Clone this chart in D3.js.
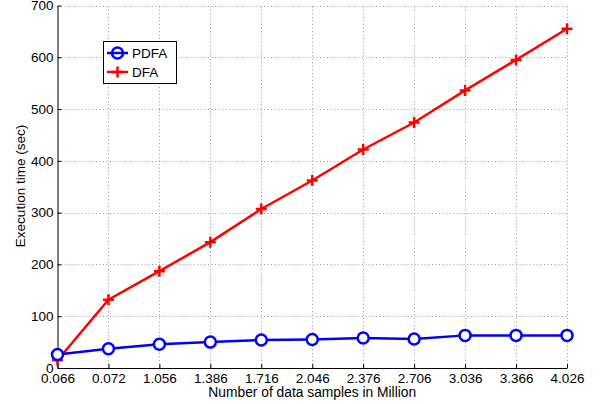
<!DOCTYPE html>
<html>
<head>
<meta charset="utf-8">
<script src="https://cdn.jsdelivr.net/npm/d3@7"></script>
<style>
  html, body { margin: 0; padding: 0; background: #fff; }
  svg { display: block; font-family: "Liberation Sans", Arial, Helvetica, sans-serif; }
</style>
</head>
<body>
<svg id="chart" width="601" height="404"></svg>
<script>
// Sample sizes (millions) shown as evenly spaced categories
const categories = ["0.066", "0.072", "1.056", "1.386", "1.716", "2.046", "2.376", "2.706", "3.036", "3.366", "4.026"];
// Execution time in seconds
const pdfaValues = [26, 37, 46, 50, 54, 55, 58, 56, 63, 63, 63];
const dfaValues  = [15, 132, 187, 243, 307, 362, 422, 474, 536, 595, 655];
const yTicks = [0, 100, 200, 300, 400, 500, 600, 700];

const svg = d3.select("#chart");
const margin = { left: 57.5, right: 34, top: 5.5, bottom: 36 };
const W = 601, H = 404;
const x0 = margin.left, x1 = W - margin.right;
const y0 = H - margin.bottom, y1 = margin.top;
const FS = 13.5;

const x = d3.scalePoint().domain(categories).range([x0, x1]);
const y = d3.scaleLinear().domain([0, 700]).range([y0, y1]);

// Dotted grid
const grid = svg.append("g").attr("stroke", "#9a9a9a").attr("stroke-width", 1)
  .attr("stroke-dasharray", "1,2.5");
grid.selectAll("line.v").data(categories.slice(1)).join("line")
  .attr("x1", d => Math.round(x(d)) + 0.5).attr("x2", d => Math.round(x(d)) + 0.5)
  .attr("y1", y0).attr("y2", y1);
grid.selectAll("line.h").data(yTicks.slice(1)).join("line")
  .attr("class", "h")
  .attr("x1", x0).attr("x2", x1)
  .attr("y1", d => Math.round(y(d)) + 0.5).attr("y2", d => Math.round(y(d)) + 0.5);

// Axes (left and bottom only, ticks pointing inward)
const xAxis = d3.axisBottom(x).tickSizeInner(-4).tickSizeOuter(0).tickPadding(5);
const yAxis = d3.axisLeft(y).tickValues(yTicks).tickSizeInner(-4).tickSizeOuter(0).tickPadding(4);

const gx = svg.append("g").attr("transform", `translate(0,${y0})`).call(xAxis);
const gy = svg.append("g").attr("transform", `translate(${x0},0)`).call(yAxis);
[gx, gy].forEach(g => {
  g.select(".domain").attr("stroke", "#000").attr("stroke-width", 1);
  g.selectAll(".tick line").attr("stroke", "#000");
  g.selectAll(".tick text").attr("fill", "#000").attr("font-size", FS)
    .attr("font-family", "Liberation Sans, Arial, sans-serif");
});

// Axis titles
svg.append("text").attr("x", (x0 + x1) / 2).attr("y", 397)
  .attr("text-anchor", "middle").attr("font-size", 13.8).text("Number of data samples in Million");
svg.append("text").attr("transform", `translate(25,186) rotate(-90)`)
  .attr("text-anchor", "middle").attr("font-size", FS).text("Execution time (sec)");

const line = d3.line().x((d, i) => x(categories[i])).y(d => y(d));

// DFA series (red, plus markers)
svg.append("path").datum(dfaValues).attr("d", line)
  .attr("fill", "none").attr("stroke", "#ff0000").attr("stroke-width", 2.5);
const plus = (g, cx, cy, s) => g.append("path")
  .attr("d", `M${cx - s},${cy}H${cx + s}M${cx},${cy - s}V${cy + s}`)
  .attr("stroke", "#ff0000").attr("stroke-width", 2.5).attr("fill", "none");
const dfaG = svg.append("g");
dfaValues.forEach((v, i) => plus(dfaG, x(categories[i]), y(v), 5.5));

// PDFA series (blue, open circles)
svg.append("path").datum(pdfaValues).attr("d", line)
  .attr("fill", "none").attr("stroke", "#0000ff").attr("stroke-width", 2.5);
svg.append("g").selectAll("circle").data(pdfaValues).join("circle")
  .attr("cx", (d, i) => x(categories[i])).attr("cy", d => y(d)).attr("r", 5.5)
  .attr("fill", "#fff").attr("stroke", "#0000ff").attr("stroke-width", 2.5);

// Legend
const lg = svg.append("g");
lg.append("rect").attr("x", 103.5).attr("y", 41.5).attr("width", 73).attr("height", 42)
  .attr("fill", "#fff").attr("stroke", "#000").attr("stroke-width", 1);
const items = [
  { name: "PDFA", color: "#0000ff", marker: "circle", yy: 53 },
  { name: "DFA", color: "#ff0000", marker: "plus", yy: 72 }
];
items.forEach(it => {
  lg.append("line").attr("x1", 107).attr("x2", 128).attr("y1", it.yy).attr("y2", it.yy)
    .attr("stroke", it.color).attr("stroke-width", 2.5);
  if (it.marker === "circle") {
    lg.append("circle").attr("cx", 117.5).attr("cy", it.yy).attr("r", 5.5)
      .attr("fill", "none").attr("stroke", it.color).attr("stroke-width", 2.5);
  } else {
    plus(lg, 117.5, it.yy, 5.5);
  }
  lg.append("text").attr("x", 132).attr("y", it.yy + 5).attr("font-size", FS)
    .attr("fill", "#000").text(it.name);
});
</script>
</body>
</html>
